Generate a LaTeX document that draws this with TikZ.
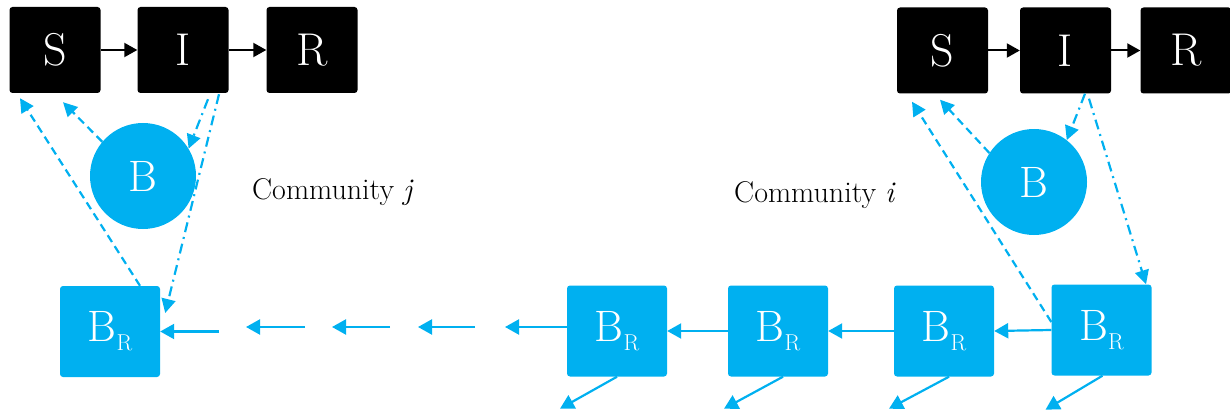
\documentclass[tikz,border=0pt]{standalone}
\usetikzlibrary{arrows.meta}
\definecolor{cy}{RGB}{0,176,240}
\newcommand\brlabel{B\raisebox{-9pt}{\fontsize{23}{23}\selectfont R}}
\begin{document}
\begin{tikzpicture}[x=1pt,y=-1pt,
  blk/.style={fill=black, rounded corners=3pt, minimum width=91pt, minimum height=86pt, text=white, font=\fontsize{46}{46}\selectfont, inner sep=0pt},
  brbox/.style={fill=cy, rounded corners=3pt, minimum width=100pt, minimum height=91pt, text=white, font=\fontsize{44}{44}\selectfont, inner sep=0pt},
  bc/.style={circle, fill=cy, minimum size=106pt, text=white, font=\fontsize{44}{44}\selectfont, inner sep=0pt},
  txt/.style={font=\fontsize{30}{30}\selectfont, inner sep=0pt},
  blkarr/.style={draw=black, line width=2pt, -{Triangle[length=13pt,width=14pt]}},
  carr/.style={draw=cy, line width=2.2pt, -{Triangle[length=14pt,width=15pt]}},
  dsh/.style={draw=cy, line width=2.2pt, dash pattern=on 8pt off 5pt, -{Triangle[length=14pt,width=14pt]}},
  dd/.style={draw=cy, line width=2.2pt, dash pattern=on 10pt off 5pt on 2pt off 5pt, -{Triangle[length=14pt,width=14pt]}}
]
\useasboundingbox (0,0) rectangle (1230,414);
% left community
\node[blk] (Sl) at (55,50) {S};
\node[blk] (Il) at (183,50) {I};
\node[blk] (Rl) at (312,50) {R};
\node[bc] (Bl) at (143,176) {B};
\node[brbox] (BRl) at (110,331.5) {\brlabel};
\node[txt, anchor=base west] (cj) at (252,199) {Community \textit{j}};
% right community
\node[blk] (Sr) at (942.5,50.5) {S};
\node[blk] (Ir) at (1065.5,50.5) {I};
\node[blk] (Rr) at (1186,50.5) {R};
\node[bc] (Br) at (1034,182) {B};
\node[brbox] (BR1) at (617,331) {\brlabel};
\node[brbox] (BR2) at (778,331) {\brlabel};
\node[brbox] (BR3) at (944,331) {\brlabel};
\node[brbox] (BR4) at (1101.5,330) {\brlabel};
\node[txt, anchor=base west] (ci) at (734,202) {Community \textit{i}};
% SIR arrows
\draw[blkarr] (Sl.east) -- (Il.west);
\draw[blkarr] (Il.east) -- (Rl.west);
\draw[blkarr] (Sr.east) -- (Ir.west);
\draw[blkarr] (Ir.east) -- (Rr.west);
% left dashed / dash-dot
\draw[dsh] (Bl.140) -- ([xshift=8pt,yshift=-9pt]Sl.south);
\draw[dsh] ([xshift=30pt]BRl.north) -- ([xshift=-35pt,yshift=-5pt]Sl.south);
\draw[dd] ([xshift=25pt,yshift=-6pt]Il.south) -- (Bl.31);
\draw[dd] ([xshift=36pt,yshift=-1pt]Il.south) -- ([xshift=5pt,yshift=18.5pt]BRl.east);
% right dashed / dash-dot
\draw[dsh] (Br.147) -- ([xshift=-2.5pt,yshift=-6pt]Sr.south);
\draw[dsh] ([yshift=8pt]BR4.west) -- ([xshift=-30.5pt,yshift=-8pt]Sr.south);
\draw[dd] ([xshift=19.5pt]Ir.south) -- (Br.52);
\draw[dd] ([xshift=23.5pt,yshift=-5pt]Ir.south) -- ([xshift=44.5pt]BR4.north);
% right chain
\draw[carr] (BR4.west) -- (BR3.east);
\draw[carr] (BR3.west) -- (BR2.east);
\draw[carr] (BR2.west) -- (BR1.east);
% left chain of arrows
\coordinate (a1) at (505,327);
\coordinate (a2) at (475,327);
\coordinate (a3) at (418,327);
\coordinate (a4) at (390,327);
\coordinate (a5) at (332,327);
\coordinate (a6) at (305,327);
\coordinate (a7) at (246,327);
\coordinate (a8) at (219,331.5);
\draw[carr] ([yshift=4pt]BR1.west) -- (a1);
\draw[carr] (a2) -- (a3);
\draw[carr] (a4) -- (a5);
\draw[carr] (a6) -- (a7);
\draw[carr] (a8) -- (BRl.east);
% outflow arrows
\coordinate (o1) at ([xshift=-57pt,yshift=-32pt]BR1.south);
\coordinate (o2) at ([xshift=-54pt,yshift=-32pt]BR2.south);
\coordinate (o3) at ([xshift=-55pt,yshift=-32pt]BR3.south);
\coordinate (o4) at ([xshift=-56pt,yshift=-34pt]BR4.south);
\draw[carr] ([xshift=0pt]BR1.south) -- (o1);
\draw[carr] ([xshift=5pt]BR2.south) -- (o2);
\draw[carr] ([xshift=5pt]BR3.south) -- (o3);
\draw[carr] ([xshift=1pt]BR4.south) -- (o4);
\end{tikzpicture}
\end{document}
